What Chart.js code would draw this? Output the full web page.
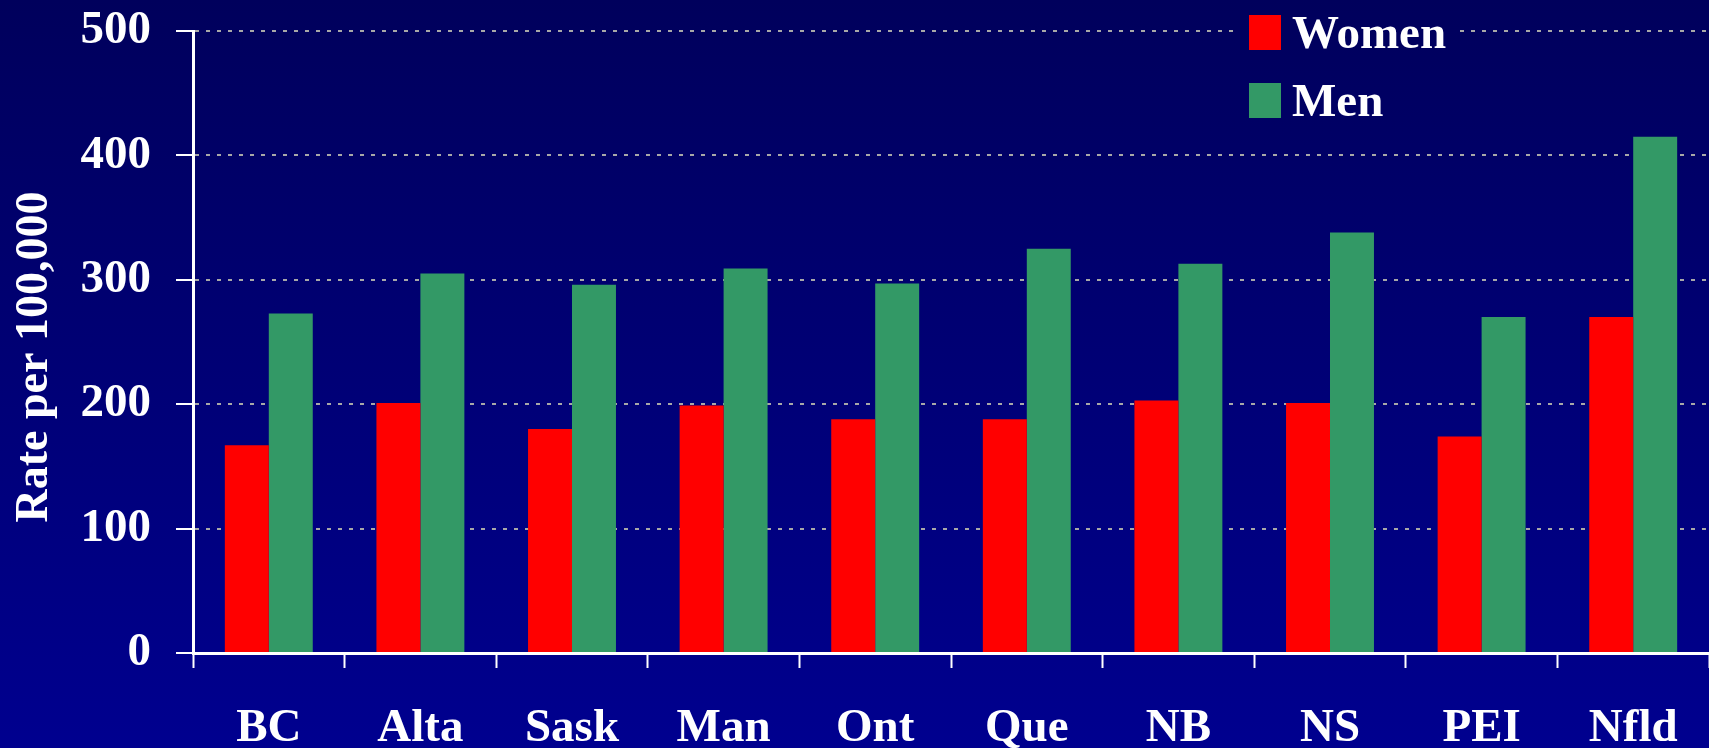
<!DOCTYPE html>
<html>
<head>
<meta charset="utf-8">
<script src="https://cdn.jsdelivr.net/npm/chart.js@4.4.1/dist/chart.umd.min.js"></script>
<style>
  html, body { margin: 0; padding: 0; background: #000070; }
  #wrap { width: 1709px; height: 748px; position: relative; }
</style>
</head>
<body>
<div id="wrap"><canvas id="c" width="1709" height="748"></canvas></div>
<script>
const categories = ['BC', 'Alta', 'Sask', 'Man', 'Ont', 'Que', 'NB', 'NS', 'PEI', 'Nfld'];
const women = [167, 201, 180, 199, 188, 188, 203, 201, 174, 270];
const men = [273, 305, 296, 309, 297, 325, 313, 338, 270, 415];
const yTicks = [0, 100, 200, 300, 400, 500];
const seriesNames = ['Women', 'Men'];
const axisTitle = 'Rate per 100,000';

const FONT = "'Liberation Serif', 'Times New Roman', serif";

function makeGradient(ctx, h) {
  const g = ctx.createLinearGradient(0, 0, 0, h);
  g.addColorStop(0, '#00005C');
  g.addColorStop(1, '#00008F');
  return g;
}

const bgPlugin = {
  id: 'bg',
  beforeDraw(chart) {
    const ctx = chart.ctx;
    ctx.save();
    ctx.fillStyle = makeGradient(ctx, chart.height);
    ctx.fillRect(0, 0, chart.width, chart.height);
    ctx.restore();
  }
};

const titlePlugin = {
  id: 'yTitle',
  afterDraw(chart) {
    const ctx = chart.ctx;
    ctx.save();
    ctx.translate(35, 357);
    ctx.rotate(-Math.PI / 2);
    ctx.fillStyle = '#ffffff';
    ctx.font = "bold 46px " + FONT;
    ctx.textAlign = 'center';
    ctx.textBaseline = 'middle';
    ctx.fillText(axisTitle, 0, 0);
    ctx.restore();
  }
};

const legendPlugin = {
  id: 'customLegend',
  afterDraw(chart) {
    const ctx = chart.ctx;
    ctx.save();
    ctx.fillStyle = makeGradient(ctx, chart.height);
    ctx.fillRect(1234, 4, 222, 126);
    const rows = [{ boxY: 15, base: 48 }, { boxY: 83, base: 116 }];
    chart.data.datasets.forEach((ds, i) => {
      const r = rows[i];
      ctx.fillStyle = ds.backgroundColor;
      ctx.fillRect(1249, r.boxY, 32, 35);
      ctx.fillStyle = '#ffffff';
      ctx.font = "bold 47px " + FONT;
      ctx.textBaseline = 'alphabetic';
      ctx.textAlign = 'left';
      ctx.fillText(ds.label, 1292, r.base);
    });
    ctx.restore();
  }
};

new Chart(document.getElementById('c'), {
  type: 'bar',
  data: {
    labels: categories,
    datasets: [
      { label: seriesNames[0], data: women, backgroundColor: '#FF0000', borderWidth: 0 },
      { label: seriesNames[1], data: men, backgroundColor: '#339966', borderWidth: 0 }
    ]
  },
  options: {
    responsive: false,
    animation: false,
    devicePixelRatio: 1,
    layout: { padding: { top: 31, right: 0, left: 0, bottom: 0 } },
    plugins: { legend: { display: false }, tooltip: { enabled: false }, title: { display: false } },
    datasets: { bar: { categoryPercentage: 0.58, barPercentage: 1.0 } },
    scales: {
      x: {
        grid: { offset: true, drawOnChartArea: false, drawTicks: true, tickLength: 15, tickColor: '#ffffff', tickWidth: 2 },
        border: { display: true, color: '#ffffff', width: 3, z: 1 },
        ticks: { color: '#ffffff', font: { family: FONT, size: 47, weight: 'bold' }, padding: 33, maxRotation: 0, autoSkip: false },
        afterFit(scale) { scale.height = 95; scale.paddingLeft = 0; scale.paddingRight = 0; }
      },
      y: {
        min: 0, max: 500,
        afterBuildTicks(scale) { scale.ticks = yTicks.map(v => ({ value: v })); },
        grid: {
          color: ctx => (ctx.tick && ctx.tick.value === 0) ? 'rgba(0,0,0,0)' : '#A8A8A8',
          lineWidth: 2,
          drawTicks: true, tickLength: 17, tickColor: '#ffffff', tickWidth: 2, tickBorderDash: []
        },
        border: { display: true, color: '#ffffff', width: 3, dash: [4, 7], z: 1 },
        ticks: { color: '#ffffff', font: { family: FONT, size: 47, weight: 'bold' }, padding: 25 },
        title: { display: false },
        afterFit(scale) { scale.width = 193; scale.paddingTop = 0; scale.paddingBottom = 0; }
      }
    }
  },
  plugins: [bgPlugin, titlePlugin, legendPlugin]
});
</script>
</body>
</html>
